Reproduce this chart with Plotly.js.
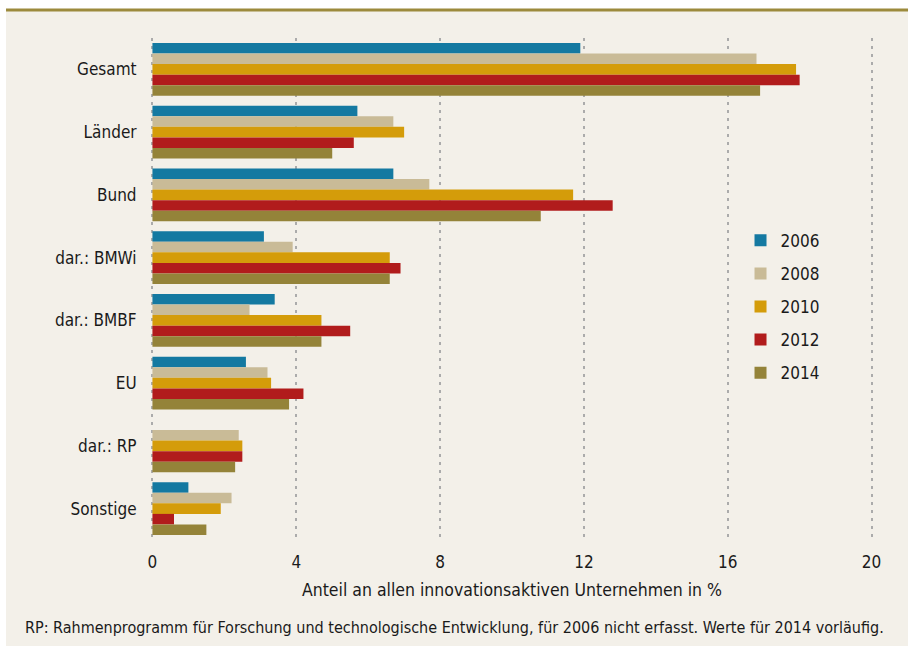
<!DOCTYPE html>
<html>
<head>
<meta charset="utf-8">
<script src="https://cdn.plot.ly/plotly-3.0.1.min.js"></script>
<style>html,body{margin:0;padding:0;background:#fff;}#chart{width:913px;height:646px;}</style>
</head>
<body>
<div id="chart"></div>
<script>
const categories = ["Gesamt", "Länder", "Bund", "dar.: BMWi", "dar.: BMBF", "EU", "dar.: RP", "Sonstige"];
const years = ["2006", "2008", "2010", "2012", "2014"];
const v2006 = [11.9, 5.7, 6.7, 3.1, 3.4, 2.6, null, 1.0];
const v2008 = [16.8, 6.7, 7.7, 3.9, 2.7, 3.2, 2.4, 2.2];
const v2010 = [17.9, 7.0, 11.7, 6.6, 4.7, 3.3, 2.5, 1.9];
const v2012 = [18.0, 5.6, 12.8, 6.9, 5.5, 4.2, 2.5, 0.6];
const v2014 = [16.9, 5.0, 10.8, 6.6, 4.7, 3.8, 2.3, 1.5];
const xTicks = [0, 4, 8, 12, 16, 20];
const xTitle = "Anteil an allen innovationsaktiven Unternehmen in %";
const footnote = "RP: Rahmenprogramm für Forschung und technologische Entwicklung, für 2006 nicht erfasst. Werte für 2014 vorläufig.";

const series = [v2006, v2008, v2010, v2012, v2014];
const colors = ["#1479a1", "#c9bb97", "#d49c0a", "#b11c1c", "#948339"];
const FONT = "'DejaVu Sans Condensed', 'DejaVu Sans', sans-serif";
const TXT = "#1a1a1a";

const traces = series.map((vals, i) => ({
  type: "bar",
  orientation: "h",
  name: years[i],
  legendgroup: years[i],
  x: vals,
  y: categories,
  marker: {color: colors[i], line: {width: 0}},
  hoverinfo: "x+name"
}));

// plot area 151..873 px; range padded slightly so edge gridlines (0 and 20) are drawn
const layout = {
  width: 913,
  height: 646,
  paper_bgcolor: "#ffffff",
  plot_bgcolor: "rgba(0,0,0,0)",
  margin: {l: 151, r: 40, t: 38, b: 106},
  barmode: "group",
  bargap: 0.16,
  bargroupgap: 0,
  font: {family: FONT, size: 17, color: TXT},
  showlegend: true,
  legend: {
    x: 0.8165, y: 0.632, xanchor: "left", yanchor: "top",
    bgcolor: "rgba(0,0,0,0)",
    font: {family: FONT, size: 17, color: TXT},
    traceorder: "grouped",
    tracegroupgap: 8,
    itemwidth: 30
  },
  xaxis: {
    range: [-0.04, 20.04],
    tickvals: xTicks,
    ticktext: xTicks.map(String),
    showgrid: true,
    gridcolor: "#ababab",
    gridwidth: 2,
    griddash: "3px,5px",
    zeroline: false,
    showline: false,
    ticks: "outside",
    ticklen: 7,
    tickcolor: "rgba(0,0,0,0)",
    tickfont: {family: FONT, size: 17, color: TXT},
    title: {text: xTitle, font: {family: FONT, size: 17.5, color: TXT}, standoff: 12},
    fixedrange: true
  },
  yaxis: {
    type: "category",
    autorange: "reversed",
    showgrid: false,
    zeroline: false,
    showline: false,
    ticks: "outside",
    ticklen: 10,
    tickcolor: "rgba(0,0,0,0)",
    tickfont: {family: FONT, size: 17, color: TXT},
    fixedrange: true
  },
  shapes: [
    {type: "rect", xref: "paper", yref: "paper", x0: -0.2008, x1: 1.0485, y0: -0.2112, y1: 1.0538,
     fillcolor: "#f3f0e9", line: {width: 0}, layer: "below"},
    {type: "line", xref: "paper", yref: "paper", x0: -0.2008, x1: 1.0485, y0: 1.0558, y1: 1.0558,
     line: {color: "#9c8a3c", width: 3}, layer: "below"}
  ],
  annotations: [
    {xref: "paper", yref: "paper", x: -0.1772, y: -0.175, xanchor: "left", yanchor: "middle",
     text: footnote, showarrow: false, font: {family: FONT, size: 16, color: TXT}}
  ]
};

Plotly.newPlot("chart", traces, layout, {displayModeBar: false, staticPlot: true});
</script>
</body>
</html>
